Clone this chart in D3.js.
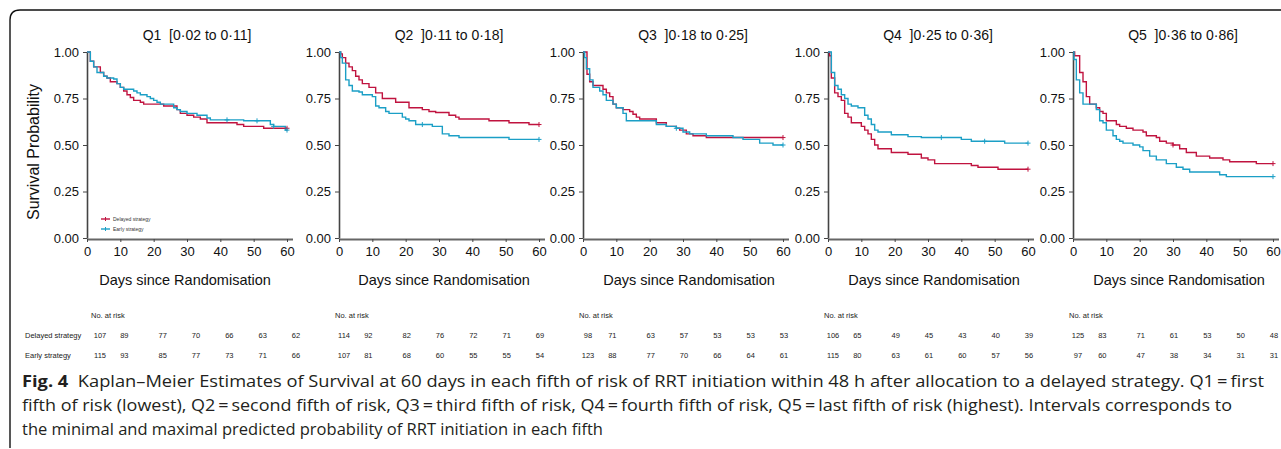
<!DOCTYPE html>
<html>
<head>
<meta charset="utf-8">
<script src="https://cdn.jsdelivr.net/npm/d3@7"></script>
<style>
  html, body { margin: 0; padding: 0; background: #fff; }
  svg { display: block; }
</style>
</head>
<body>
<svg id="chart" width="1281" height="449"></svg>
<script>
// ---------------- DATA ----------------
const panelTitles = ["Q1  [0\u00B702 to 0\u00B711]", "Q2  ]0\u00B711 to 0\u00B718]", "Q3  ]0\u00B718 to 0\u00B725]", "Q4  ]0\u00B725 to 0\u00B736]", "Q5  ]0\u00B736 to 0\u00B786]"];
const seriesNames = ["Delayed strategy", "Early strategy"];
const xTicks = [0, 10, 20, 30, 40, 50, 60];
const yTicks = [0, 0.25, 0.5, 0.75, 1];
const riskDays = [0, 10, 20, 30, 40, 50, 60];

// Kaplan-Meier steps: [day, survival]
const q1Delayed = [[0,1],[1,0.95],[2,0.92],[4,0.89],[5,0.87],[6,0.86],[7,0.84],[9,0.83],[10,0.81],[11,0.79],[12,0.77],[13,0.755],[14,0.74],[16,0.73],[17,0.72],[23,0.71],[27,0.69],[28,0.67],[30,0.66],[32,0.65],[34,0.64],[36,0.62],[45,0.61],[47,0.60],[53,0.59],[60,0.59]];
const q1Early   = [[0,1],[1,0.95],[2,0.92],[3,0.89],[5,0.87],[6,0.86],[8,0.855],[9,0.83],[10,0.81],[11,0.80],[14,0.79],[15,0.78],[16,0.77],[18,0.76],[19,0.75],[20,0.74],[21,0.73],[22,0.72],[26,0.70],[27,0.69],[28,0.68],[30,0.67],[33,0.66],[36,0.645],[37,0.635],[47,0.63],[55,0.61],[56,0.60],[59.5,0.58],[60,0.58]];
const q2Delayed = [[0,1],[0.5,0.99],[1,0.97],[2,0.94],[3,0.92],[4,0.90],[5,0.87],[6,0.85],[7,0.83],[9,0.81],[11,0.78],[13,0.75],[17,0.73],[21,0.70],[25,0.69],[27,0.68],[29,0.675],[33,0.66],[35,0.65],[36,0.64],[45,0.63],[51,0.62],[57,0.61],[60,0.61]];
const q2Early   = [[0,1],[0.5,0.97],[1,0.94],[2,0.85],[3,0.82],[4,0.79],[6,0.785],[7,0.77],[10,0.76],[11,0.71],[12,0.70],[14,0.68],[15,0.67],[19,0.65],[20,0.64],[21,0.63],[23,0.61],[28,0.60],[31,0.56],[33,0.55],[36,0.54],[51,0.53],[60,0.53]];
const q3Delayed = [[0,1],[1.2,0.88],[2,0.84],[3,0.82],[6,0.80],[7,0.78],[8,0.76],[9,0.72],[10,0.70],[12,0.69],[14,0.68],[15,0.665],[16,0.65],[17,0.64],[22,0.62],[25,0.60],[28,0.59],[29,0.58],[31,0.56],[33,0.55],[37,0.54],[60,0.54]];
const q3Early   = [[0,1],[0.5,0.97],[1,0.91],[2,0.85],[3,0.81],[5,0.79],[6,0.77],[7,0.74],[9,0.72],[10,0.70],[12,0.67],[13,0.63],[22,0.61],[25,0.60],[28,0.59],[30,0.57],[32,0.56],[37,0.55],[45,0.54],[48,0.53],[53,0.51],[57,0.50],[60,0.50]];
const q4Delayed = [[0,1],[0.5,0.98],[1,0.86],[2,0.78],[3,0.76],[4,0.74],[5,0.67],[6,0.65],[7,0.62],[10,0.60],[11,0.58],[12,0.56],[13,0.53],[14,0.50],[15,0.48],[19,0.46],[24,0.45],[28,0.43],[30,0.42],[32,0.40],[43,0.39],[45,0.38],[51,0.37],[60,0.37]];
const q4Early   = [[0,1],[1,0.89],[2,0.82],[3,0.80],[4,0.77],[5,0.75],[6,0.72],[7,0.71],[9,0.70],[11,0.66],[12,0.64],[13,0.61],[14,0.58],[15,0.57],[19,0.555],[24,0.545],[28,0.54],[40,0.53],[43,0.52],[53,0.51],[60,0.51]];
const q5Delayed = [[0,1],[0.5,0.98],[2,0.89],[3,0.84],[4,0.76],[5,0.72],[7,0.70],[8,0.68],[9,0.67],[10,0.63],[13,0.61],[14,0.60],[16,0.59],[18,0.58],[21,0.57],[22,0.55],[25,0.54],[26,0.52],[28,0.51],[30,0.50],[32,0.48],[34,0.46],[37,0.44],[41,0.43],[45,0.42],[47,0.41],[55,0.40],[60,0.40]];
const q5Early   = [[0,1],[0.3,0.96],[1,0.85],[2,0.78],[3,0.72],[7,0.69],[8,0.63],[9,0.62],[10,0.58],[12,0.55],[13,0.53],[14,0.52],[15,0.51],[18,0.50],[20,0.49],[21,0.47],[23,0.44],[25,0.42],[28,0.40],[31,0.38],[33,0.37],[35,0.355],[44,0.34],[46,0.33],[60,0.33]];

// censor marks (days)
const q1DelayedCensor = [60];
const q1EarlyCensor = [42, 51, 56, 60];
const q2DelayedCensor = [60];
const q2EarlyCensor = [25, 60];
const q3DelayedCensor = [60];
const q3EarlyCensor = [28, 60];
const q4DelayedCensor = [60];
const q4EarlyCensor = [34, 47, 60];
const q5DelayedCensor = [30, 60];
const q5EarlyCensor = [60];

// numbers at risk
const q1RiskDelayed = [107, 89, 77, 70, 66, 63, 62];
const q1RiskEarly   = [115, 93, 85, 77, 73, 71, 66];
const q2RiskDelayed = [114, 92, 82, 76, 72, 71, 69];
const q2RiskEarly   = [107, 81, 68, 60, 55, 55, 54];
const q3RiskDelayed = [98, 71, 63, 57, 53, 53, 53];
const q3RiskEarly   = [123, 88, 77, 70, 66, 64, 61];
const q4RiskDelayed = [106, 65, 49, 45, 43, 40, 39];
const q4RiskEarly   = [115, 80, 63, 61, 60, 57, 56];
const q5RiskDelayed = [125, 83, 71, 61, 53, 50, 48];
const q5RiskEarly   = [97, 60, 47, 38, 34, 31, 31];

const captionBold = "Fig. 4";
const captionLines = [
  "  Kaplan\u2013Meier Estimates of Survival at 60 days in each fifth of risk of RRT initiation within 48 h after allocation to a delayed strategy. Q1\u2009=\u2009first",
  "fifth of risk (lowest), Q2\u2009=\u2009second fifth of risk, Q3\u2009=\u2009third fifth of risk, Q4\u2009=\u2009fourth fifth of risk, Q5\u2009=\u2009last fifth of risk (highest). Intervals corresponds to",
  "the minimal and maximal predicted probability of RRT initiation in each fifth"
];

// ---------------- BUILD ----------------
const panels = [
  { title: panelTitles[0], curves: [q1Delayed, q1Early], censor: [q1DelayedCensor, q1EarlyCensor], risk: [q1RiskDelayed, q1RiskEarly] },
  { title: panelTitles[1], curves: [q2Delayed, q2Early], censor: [q2DelayedCensor, q2EarlyCensor], risk: [q2RiskDelayed, q2RiskEarly] },
  { title: panelTitles[2], curves: [q3Delayed, q3Early], censor: [q3DelayedCensor, q3EarlyCensor], risk: [q3RiskDelayed, q3RiskEarly] },
  { title: panelTitles[3], curves: [q4Delayed, q4Early], censor: [q4DelayedCensor, q4EarlyCensor], risk: [q4RiskDelayed, q4RiskEarly] },
  { title: panelTitles[4], curves: [q5Delayed, q5Early], censor: [q5DelayedCensor, q5EarlyCensor], risk: [q5RiskDelayed, q5RiskEarly] }
];

// layout
const axisLeft = [87, 339, 583, 828, 1073];
const xLabelShift = [98, 105, 106, 106, 106];
const tableShift = [8, 0, 0, 0, 0];
const plotW = 200, plotTop = 52, plotBottom = 238;
const colors = ["#c0133f", "#1b9fc6"];
const font = "'Liberation Sans', Arial, Helvetica, sans-serif";

const svg = d3.select("#chart");

// Frame
svg.append("path")
  .attr("d", "M10,448 L10,20 Q10,10 20,10 L1281,10")
  .attr("fill", "none").attr("stroke", "#111").attr("stroke-width", 1.4);

const y = d3.scaleLinear().domain([0, 1]).range([plotBottom, plotTop]);

panels.forEach((p, i) => {
  const x0 = axisLeft[i];
  const x = d3.scaleLinear().domain([0, 60]).range([x0, x0 + plotW]);
  const g = svg.append("g");

  // title
  g.append("text")
    .attr("x", x0 + 110).attr("y", 40)
    .attr("text-anchor", "middle")
    .style("white-space", "pre")
    .attr("font-family", font).attr("font-size", 14).attr("fill", "#111")
    .text(p.title);

  // x axis
  const xAxis = d3.axisBottom(x).tickValues(xTicks).tickSize(3).tickSizeOuter(0).tickPadding(5);
  const gx = g.append("g").attr("transform", `translate(0,${plotBottom + 1})`).call(xAxis);
  gx.select(".domain").attr("d", `M${x0},0.5H${x0 + plotW + 6}`).attr("stroke", "#666").attr("stroke-width", 2);
  gx.selectAll(".tick line").attr("stroke", "#444");
  gx.selectAll(".tick text").attr("font-family", font).attr("font-size", 13).attr("fill", "#111");

  // y axis
  const yAxis = d3.axisLeft(y).tickValues(yTicks).tickFormat(d3.format(".2f")).tickSize(4).tickSizeOuter(0).tickPadding(4);
  const gy = g.append("g").attr("transform", `translate(${x0},0)`).call(yAxis);
  gy.select(".domain").attr("stroke", "#444").attr("stroke-width", 1.6);
  gy.selectAll(".tick line").attr("stroke", "#444");
  gy.selectAll(".tick text").attr("font-family", font).attr("font-size", 13).attr("fill", "#111");

  // x label
  g.append("text")
    .attr("x", x0 + xLabelShift[i]).attr("y", 285)
    .attr("text-anchor", "middle")
    .attr("font-family", font).attr("font-size", 14.5).attr("fill", "#111")
    .text("Days since Randomisation");

  // curves
  const line = d3.line().x(d => x(d[0])).y(d => y(d[1])).curve(d3.curveStepAfter);
  p.curves.forEach((c, k) => {
    g.append("path").datum(c)
      .attr("d", line)
      .attr("fill", "none").attr("stroke", colors[k]).attr("stroke-width", 1.4);
  });
  // censor marks
  p.censor.forEach((cs, k) => {
    const curve = p.curves[k];
    cs.forEach(t => {
      let s = curve[0][1];
      curve.forEach(d => { if (d[0] <= t) s = d[1]; });
      const cx = x(t), cy = y(s);
      g.append("path")
        .attr("d", `M${cx - 2.5},${cy}H${cx + 2.5}M${cx},${cy - 2.5}V${cy + 2.5}`)
        .attr("stroke", colors[k]).attr("stroke-width", 1);
    });
  });

  // risk table
  const ts = tableShift[i];
  g.append("text")
    .attr("x", x0 - 4 + ts).attr("y", 318)
    .attr("font-family", font).attr("font-size", 7.5).attr("fill", "#222")
    .text("No. at risk");
  const colX = (j) => ts + (j === 0 ? x(riskDays[0]) + 5 : (j === 1 ? x(riskDays[1]) - 4 : x(riskDays[j]) + 1));
  p.risk.forEach((row, k) => {
    row.forEach((v, j) => {
      g.append("text")
        .attr("x", colX(j)).attr("y", 338 + k * 20)
        .attr("text-anchor", "middle")
        .attr("font-family", font).attr("font-size", 7.5).attr("fill", "#222")
        .text(v);
    });
  });
});

// y label
svg.append("text")
  .attr("transform", "translate(39,152) rotate(-90)")
  .attr("text-anchor", "middle")
  .attr("font-family", font).attr("font-size", 16).attr("fill", "#111")
  .text("Survival Probability");

// row labels
seriesNames.forEach((n, k) => {
  svg.append("text")
    .attr("x", 25).attr("y", 338 + k * 20)
    .attr("font-family", font).attr("font-size", 7.5).attr("fill", "#222")
    .text(n);
});

// legend (Q1 panel)
seriesNames.forEach((n, k) => {
  const ly = 219 + k * 10;
  svg.append("line").attr("x1", 101).attr("x2", 110).attr("y1", ly).attr("y2", ly)
    .attr("stroke", colors[k]).attr("stroke-width", 1.4);
  svg.append("path").attr("d", `M105.5,${ly - 2}V${ly + 2}`).attr("stroke", colors[k]).attr("stroke-width", 1);
  svg.append("text").attr("x", 113).attr("y", ly + 2)
    .attr("font-family", font).attr("font-size", 5).attr("fill", "#333")
    .text(n);
});

// caption (justified lines 1-2, natural last line)
const capFont = "'Open Sans', 'Noto Sans', sans-serif";
const capWidths = [1242, 1210, null];
captionLines.forEach((l, i) => {
  const t = svg.append("text")
    .attr("x", 22).attr("y", 387 + i * 24)
    .attr("font-family", capFont).attr("font-size", 16.5).attr("fill", "#231f20")
    .style("white-space", "pre");
  if (capWidths[i]) t.attr("textLength", capWidths[i]).attr("lengthAdjust", "spacingAndGlyphs");
  if (i === 0) t.append("tspan").attr("font-weight", 700).text(captionBold);
  t.append("tspan").text(l);
});
</script>
</body>
</html>
